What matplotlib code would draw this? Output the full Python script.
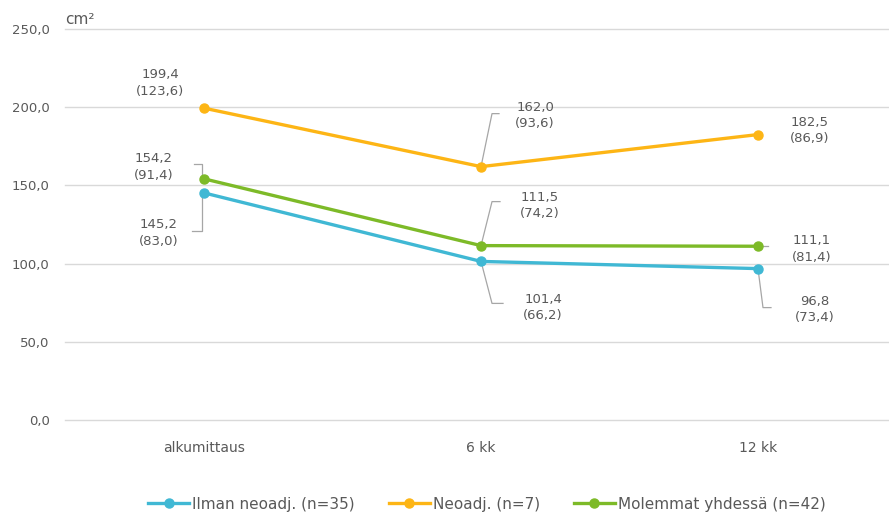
import matplotlib.pyplot as plt

plt.rcParams['font.family'] = ['DejaVu Sans']

# mittausajankohdat ja keskiarvot (keskihajonta suluissa)
kohdat = ['alkumittaus', '6 kk', '12 kk']
ilman = [145.2, 101.4, 96.8]
ilman_sd = [83.0, 66.2, 73.4]
neo = [199.4, 162.0, 182.5]
neo_sd = [123.6, 93.6, 86.9]
molemmat = [154.2, 111.5, 111.1]
molemmat_sd = [91.4, 74.2, 81.4]

nimet = ['Ilman neoadj. (n=35)', 'Neoadj. (n=7)', 'Molemmat yhdessä (n=42)']
varit = ['#40b8d4', '#fdb515', '#7dba28']
harmaa = '#595959'

fig = plt.figure(figsize=(8.89, 5.18), dpi=100)
ax = fig.add_axes([65/889, 1 - 420/518, 824/889, 391/518])
ax.set_xlim(-0.502, 2.473)
ax.set_ylim(0, 250)

for y in range(0, 251, 50):
    ax.axhline(y, color='#d9d9d9', lw=1, zorder=0, clip_on=False)
for s in ax.spines.values():
    s.set_visible(False)

x = list(range(len(kohdat)))
for arvot, nimi, vari in zip([ilman, neo, molemmat], nimet, varit):
    ax.plot(x, arvot, color=vari, lw=2.4, marker='o', ms=6.5, label=nimi, zorder=3)

ax.set_xticks(x)
ax.set_xticklabels(kohdat, fontsize=10, color=harmaa)
ax.set_yticks(range(0, 251, 50))
ax.set_yticklabels([f'{v},0' for v in range(0, 251, 50)], fontsize=9.5, color=harmaa)
ax.tick_params(length=0, axis='x', pad=15)
ax.tick_params(length=0, axis='y', pad=11)

# tekstien paikat ja viivat pisteestä (pikseleinä, y alaspäin)
tekstit = {
    (1, 0): (-44, -25), (1, 1): (54, -51), (1, 2): (52, -4),
    (2, 0): (-50, -12), (2, 1): (59, -40), (2, 2): (54, 3),
    (0, 0): (-45, 40), (0, 1): (62, 46), (0, 2): (57, 41),
}
viivat = {
    (2, 0): [(-2, -4), (-2, -15), (-10, -15)],
    (0, 0): [(-2, 3), (-2, 38), (-12, 38)],
    (1, 1): [(0, 0), (11, -53), (18, -53)],
    (2, 1): [(0, 0), (11, -44), (19, -44)],
    (0, 1): [(0, 0), (11, 42), (22, 42)],
    (2, 2): [(4, 0), (10, 0)],
    (0, 2): [(0, 0), (5, 39), (13, 39)],
}

sarjat = [(ilman, ilman_sd), (neo, neo_sd), (molemmat, molemmat_sd)]
for s, (arvot, sd) in enumerate(sarjat):
    for i in x:
        dx, dy = tekstit[(s, i)]
        txt = f'{arvot[i]:.1f}\n({sd[i]:.1f})'.replace('.', ',')
        ax.annotate(txt, (i, arvot[i]), xytext=(dx, -dy), textcoords='offset pixels',
                    ha='center', va='center', fontsize=9.5, color=harmaa, linespacing=1.35)
        if (s, i) in viivat:
            p = ax.transData.transform((i, arvot[i]))
            pts = [ax.transData.inverted().transform((p[0] + a, p[1] - b))
                   for a, b in viivat[(s, i)]]
            ax.plot([q[0] for q in pts], [q[1] for q in pts], color='#a6a6a6',
                    lw=0.9, zorder=2, clip_on=False)

fig.text(65/889, 1 - 19/518, 'cm²', fontsize=11, color=harmaa, va='center')

fig.legend(loc='center', bbox_to_anchor=(487/889, 1 - 504/518), ncol=3, frameon=False,
           fontsize=11, handlelength=2.7, columnspacing=2.2, handletextpad=0.2,
           labelcolor=harmaa)

fig.savefig('out.png', dpi=100)
